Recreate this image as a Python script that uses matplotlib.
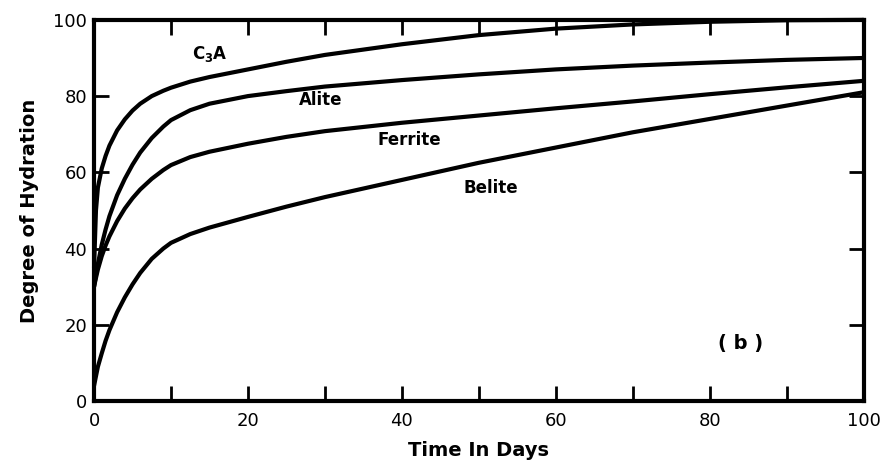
import matplotlib
matplotlib.use('Agg')
import matplotlib.pyplot as plt
from matplotlib.ticker import MultipleLocator

plt.rcParams['font.family'] = 'DejaVu Sans'

# hydration curves (percent) against time (days)
days = [0, 0.25, 0.5, 1, 1.5, 2, 3, 4, 5, 6, 7.5, 9, 10, 12.5, 15, 20, 25, 30, 40, 50, 60, 70, 80, 90, 100]
c3a = [35, 50, 56, 61, 64.3, 67, 71, 73.9, 76.2, 78, 80, 81.4, 82.2, 83.8, 85, 87, 89, 90.8,
       93.6, 96, 97.7, 98.8, 99.5, 99.9, 100]
alite = [30, 33, 36, 41, 45, 48.5, 54, 58.3, 62, 65.2, 69, 72, 73.7, 76.3, 78, 80, 81.3, 82.5,
         84.2, 85.7, 87, 88, 88.8, 89.5, 90]
ferrite = [30, 32.3, 34.5, 38, 40.8, 43.2, 47.2, 50.5, 53.2, 55.5, 58.3, 60.6, 61.9, 64, 65.4, 67.5,
           69.3, 70.8, 73, 74.9, 76.8, 78.6, 80.5, 82.3, 84]
belite = [4, 6.5, 9, 12.5, 15.8, 18.6, 23.3, 27.2, 30.6, 33.6, 37.3, 40, 41.5, 43.8, 45.5, 48.3,
          51, 53.5, 58, 62.5, 66.5, 70.5, 74, 77.5, 81]

fig = plt.figure(figsize=(8.83, 4.62), dpi=100)
ax = fig.add_axes([0.1065, 0.132, 0.8715, 0.825])

for ys in (c3a, alite, ferrite, belite):
    ax.plot(days, ys, color='black', lw=3, solid_capstyle='round',
            solid_joinstyle='round', clip_on=False)

ax.set_xlim(0, 100)
ax.set_ylim(0, 100)
for s in ax.spines.values():
    s.set_linewidth(3)

ax.xaxis.set_major_locator(MultipleLocator(20))
ax.xaxis.set_minor_locator(MultipleLocator(10))
ax.yaxis.set_major_locator(MultipleLocator(20))
ax.tick_params(which='both', direction='in', top=True, right=True,
               length=11, width=2, labelsize=13, pad=5)
ax.tick_params(axis='x', pad=8)

ax.set_xlabel('Time In Days', fontsize=14, fontweight='bold', labelpad=8)
ax.set_ylabel('Degree of Hydration', fontsize=14, fontweight='bold', labelpad=10)

ax.text(15, 91, 'C$_\\mathbf{3}$A', fontsize=12, fontweight='bold', ha='center', va='center')
ax.text(29.5, 79, 'Alite', fontsize=12, fontweight='bold', ha='center', va='center')
ax.text(41, 68.5, 'Ferrite', fontsize=12, fontweight='bold', ha='center', va='center')
ax.text(51.5, 56, 'Belite', fontsize=12, fontweight='bold', ha='center', va='center')
ax.text(84, 15, '( b )', fontsize=14, fontweight='bold', ha='center', va='center')

fig.savefig('out.png', dpi=100)
plt.close(fig)
